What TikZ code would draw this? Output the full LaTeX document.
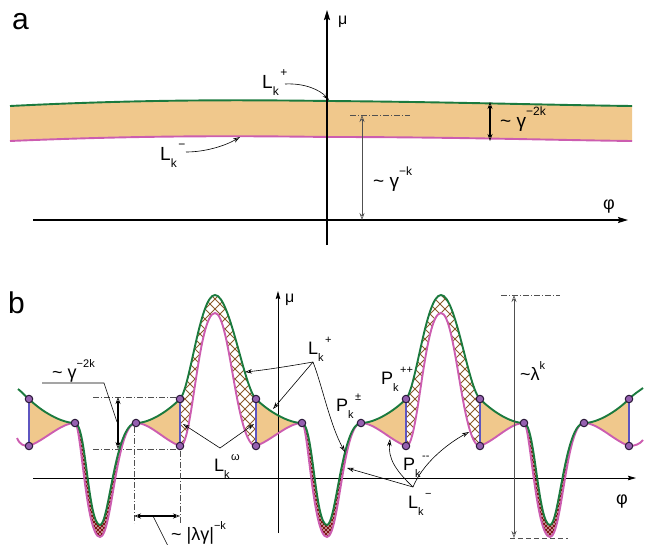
\documentclass[tikz,border=0pt]{standalone}
\usepackage{fontspec}
\setmainfont{Liberation Sans}
\usetikzlibrary{arrows.meta,patterns}
\definecolor{gcol}{HTML}{1B7A3E}
\definecolor{mcol}{HTML}{CC5DB0}
\definecolor{ocol}{HTML}{F0C88C}
\definecolor{bcol}{HTML}{5E55C0}
\definecolor{dotfill}{HTML}{9560B0}
\definecolor{dotline}{HTML}{2A1838}
\definecolor{hbrown}{HTML}{8B5A2B}
\definecolor{hred}{HTML}{801515}
\definecolor{dgray}{HTML}{505050}
\pgfdeclarepatternformonly{bighatch}{\pgfqpoint{-1pt}{-1pt}}{\pgfqpoint{11pt}{11pt}}{\pgfqpoint{10pt}{10pt}}{%
  \pgfsetlinewidth{0.9pt}%
  \pgfpathmoveto{\pgfqpoint{0pt}{0pt}}\pgfpathlineto{\pgfqpoint{10pt}{10pt}}%
  \pgfpathmoveto{\pgfqpoint{0pt}{10pt}}\pgfpathlineto{\pgfqpoint{10pt}{0pt}}%
  \pgfusepath{stroke}}
\pgfdeclarepatternformonly{smallhatch}{\pgfqpoint{-1pt}{-1pt}}{\pgfqpoint{5pt}{5pt}}{\pgfqpoint{4pt}{4pt}}{%
  \pgfsetlinewidth{1.1pt}%
  \pgfpathmoveto{\pgfqpoint{0pt}{0pt}}\pgfpathlineto{\pgfqpoint{4pt}{4pt}}%
  \pgfpathmoveto{\pgfqpoint{0pt}{4pt}}\pgfpathlineto{\pgfqpoint{4pt}{0pt}}%
  \pgfusepath{stroke}}
\def\subsz{11}
\newcommand{\Lbl}[3]{#1\raisebox{-0.42em}{\fontsize{\subsz}{\subsz}\selectfont #2}\hspace{0.08em}\raisebox{0.6em}{\fontsize{\subsz}{\subsz}\selectfont #3}}
\newcommand{\Sup}[1]{\raisebox{0.6em}{\fontsize{\subsz}{\subsz}\selectfont #1}}
\begin{document}
\begin{tikzpicture}[x=1pt,y=-1pt,
  gline/.style={gcol,line width=1.9pt},
  mline/.style={mcol,line width=1.9pt},
  bline/.style={bcol,line width=1.2pt},
  dotc/.style={circle,fill=dotfill,draw=dotline,line width=1pt,minimum size=7.5pt,inner sep=0pt},
  axa/.style={black,line width=1.6pt,-{Stealth[length=10pt,width=6pt,inset=1.5pt]}},
  axb/.style={black,line width=0.9pt,-{Stealth[length=8pt,width=4.5pt,inset=1pt]}},
  ldr/.style={black,line width=0.6pt},
  openhead/.style={-{Stealth[open,length=7pt,width=4.5pt,line width=0.6pt]}},
  dblopen/.style={{Stealth[open,length=7pt,width=5pt,line width=0.6pt]}-{Stealth[open,length=7pt,width=5pt,line width=0.6pt]}},
  dashdot/.style={dgray,line width=0.7pt,dash pattern=on 6pt off 2pt on 1pt off 2pt},
  dashd/.style={dgray,line width=0.7pt,dash pattern=on 5pt off 3pt},
  lbla/.style={anchor=base west,inner sep=0pt,font=\fontsize{19}{19}\selectfont\def\subsz{12}},
  lblb/.style={anchor=base west,inner sep=0pt,font=\fontsize{18}{18}\selectfont\def\subsz{11}},
  bigl/.style={anchor=base west,inner sep=0pt,font=\fontsize{30}{30}\selectfont},
]
\path[use as bounding box] (0,0) rectangle (650,544);

% ================= panel a =================
\node[bigl] (la) at (12,29) {a};
\fill[ocol] (10,106) .. controls (150,99) and (250,100) .. (330,101) .. controls (450,102) and (550,105) .. (632,106)
  -- (632,141) .. controls (550,140) and (450,137) .. (330,137) .. controls (250,136) and (150,135) .. (10,141) -- cycle;
\draw[gline] (10,106) .. controls (150,99) and (250,100) .. (330,101) .. controls (450,102) and (550,105) .. (632,106);
\draw[mline] (10,141) .. controls (150,135) and (250,136) .. (330,137) .. controls (450,137) and (550,140) .. (632,141);

\coordinate (aphL) at (33,220); \coordinate (aphR) at (628,220);
\coordinate (amuB) at (327,245); \coordinate (amuT) at (327,10);
\draw[axa] (aphL) -- (aphR);
\draw[axa] (amuB) -- (amuT);
\node[anchor=base west,inner sep=0pt,font=\fontsize{16}{16}\selectfont] (amu) at (338,24) {μ};
\node[anchor=base west,inner sep=0pt,font=\fontsize{18}{18}\selectfont] (aphi) at (603,209) {φ};

\coordinate (adl) at (350,115); \coordinate (adr) at (410,115);
\draw[dashdot] (adl) -- (adr);
\coordinate (aat) at (362,115); \coordinate (aab) at (362,220);
\draw[dblopen,dgray,line width=0.7pt] (aab) -- (aat);
\coordinate (abt) at (490,102); \coordinate (abb) at (490,141);
\draw[dblopen,black,line width=1.8pt] (abt) -- (abb);
\node[lbla] (agk) at (373,187) {\textasciitilde\ γ\Sup{−k}};
\node[lbla] (ag2k) at (500,127) {\textasciitilde\ γ\Sup{−2k}};
\node[lbla] (aLp) at (262,88) {\Lbl{L}{k}{+}};
\node[lbla] (aLm) at (160,160) {\Lbl{L}{k}{−}};
\coordinate (aLpS) at (285,84); \coordinate (aLpT) at (329,100);
\draw[ldr,openhead] (aLpS) .. controls (305,83) and (320,90) .. (aLpT);
\coordinate (aLmS) at (186,152); \coordinate (aLmT) at (240,137);
\draw[ldr,openhead] (aLmS) .. controls (205,152) and (225,146) .. (aLmT);

% ================= panel b =================
\node[bigl] (lb) at (8,313) {b};

% orange triangles
\fill[ocol] (29,399) .. controls (41,411) and (61,423) .. (75,423) .. controls (61,423) and (45,440) .. (29,446) -- cycle;
\fill[ocol] (136,423) .. controls (150,423) and (168,411) .. (180,399) -- (180,446) .. controls (164,440) and (150,423) .. (136,423) -- cycle;
\fill[ocol] (256,399) .. controls (268,411) and (288,423) .. (302,423) .. controls (288,423) and (272,440) .. (256,446) -- cycle;
\fill[ocol] (361,423) .. controls (375,423) and (394,411) .. (406,399) -- (406,446) .. controls (390,440) and (375,423) .. (361,423) -- cycle;
\fill[ocol] (480,399) .. controls (492,411) and (510,423) .. (524,423) .. controls (510,423) and (496,440) .. (480,446) -- cycle;
\fill[ocol] (584,423) .. controls (598,423) and (617,411) .. (629,399) -- (629,446) .. controls (613,440) and (598,423) .. (584,423) -- cycle;

% bump hatches
\fill[pattern=bighatch,pattern color=hbrown] (180,399) .. controls (190,389) and (200,295) .. (215,295) .. controls (230,295) and (244,388) .. (256,399) -- (256,446) .. controls (236,446) and (230,313) .. (215,313) .. controls (198,313) and (192,450) .. (180,446) -- cycle;
\fill[pattern=bighatch,pattern color=hbrown] (406,399) .. controls (416,389) and (426,295) .. (441,295) .. controls (456,295) and (468,388) .. (480,399) -- (480,446) .. controls (462,446) and (456,313) .. (441,313) .. controls (424,313) and (418,450) .. (406,446) -- cycle;
% dip hatches
\fill[pattern=smallhatch,pattern color=hred] (75,423) .. controls (86,423) and (88,525) .. (100,525) .. controls (109,525) and (115,423) .. (136,423) .. controls (116,423) and (112,537) .. (100,537) .. controls (86,537) and (81,423) .. (75,423) -- cycle;
\fill[pattern=smallhatch,pattern color=hred] (302,423) .. controls (313,423) and (315,525) .. (327,525) .. controls (336,525) and (342,423) .. (361,423) .. controls (343,423) and (339,537) .. (327,537) .. controls (313,537) and (308,423) .. (302,423) -- cycle;
\fill[pattern=smallhatch,pattern color=hred] (524,423) .. controls (535,423) and (538,525) .. (550,525) .. controls (559,525) and (565,423) .. (584,423) .. controls (566,423) and (562,537) .. (550,537) .. controls (536,537) and (530,423) .. (524,423) -- cycle;

% axes
\coordinate (bphL) at (33,478); \coordinate (bphR) at (636,478);
\coordinate (bmuB) at (278,533); \coordinate (bmuT) at (278,291);
\draw[axb] (bphL) -- (bphR);
\draw[axb] (bmuB) -- (bmuT);
\node[anchor=base west,inner sep=0pt,font=\fontsize{16}{16}\selectfont] (bmu) at (285,302) {μ};
\node[anchor=base west,inner sep=0pt,font=\fontsize{18}{18}\selectfont] (bphi) at (616,504) {φ};

% dots
\foreach \n/\x/\y in {a1/29/399,a2/29/446,a3/75/423,b1/136/423,b2/180/399,b3/180/446,c1/256/399,c2/256/446,c3/302/423,d1/361/423,d2/406/399,d3/406/446,e1/480/399,e2/480/446,e3/524/423,f1/584/423,f2/629/399,f3/629/446}
  \coordinate (\n) at (\x,\y);

% blue edges
\draw[bline] (a1) -- (a2);
\draw[bline] (b2) -- (b3);
\draw[bline] (c1) -- (c2);
\draw[bline] (d2) -- (d3);
\draw[bline] (e1) -- (e2);
\draw[bline] (f2) -- (f3);

% magenta curve
\draw[mline] (17,438) .. controls (20,445) and (24,446) .. (29,446)
 .. controls (45,440) and (61,423) .. (75,423)
 .. controls (81,423) and (86,537) .. (100,537) .. controls (112,537) and (116,423) .. (136,423)
 .. controls (150,423) and (164,440) .. (180,446)
 .. controls (192,450) and (198,313) .. (215,313) .. controls (230,313) and (236,446) .. (256,446)
 .. controls (272,440) and (288,423) .. (302,423)
 .. controls (308,423) and (313,537) .. (327,537) .. controls (339,537) and (343,423) .. (361,423)
 .. controls (375,423) and (390,440) .. (406,446)
 .. controls (418,450) and (424,313) .. (441,313) .. controls (456,313) and (462,446) .. (480,446)
 .. controls (496,440) and (510,423) .. (524,423)
 .. controls (530,423) and (536,537) .. (550,537) .. controls (562,537) and (566,423) .. (584,423)
 .. controls (598,423) and (613,440) .. (629,446)
 .. controls (635,446) and (640,444) .. (643,440);
% green curve
\draw[gline] (18,389) .. controls (22,392) and (25,396) .. (29,399)
 .. controls (41,411) and (61,423) .. (75,423)
 .. controls (86,423) and (88,525) .. (100,525) .. controls (109,525) and (115,423) .. (136,423)
 .. controls (150,423) and (168,411) .. (180,399)
 .. controls (190,389) and (200,295) .. (215,295) .. controls (230,295) and (244,388) .. (256,399)
 .. controls (268,411) and (288,423) .. (302,423)
 .. controls (313,423) and (315,525) .. (327,525) .. controls (336,525) and (342,423) .. (361,423)
 .. controls (375,423) and (394,411) .. (406,399)
 .. controls (416,389) and (426,295) .. (441,295) .. controls (456,295) and (468,388) .. (480,399)
 .. controls (492,411) and (510,423) .. (524,423)
 .. controls (535,423) and (538,525) .. (550,525) .. controls (559,525) and (565,423) .. (584,423)
 .. controls (598,423) and (617,411) .. (629,399)
 .. controls (634,394) and (639,391) .. (643,388);

\foreach \n in {a1,a2,a3,b1,b2,b3,c1,c2,c3,d1,d2,d3,e1,e2,e3,f1,f2,f3}
  \node[dotc] (n\n) at (\n) {};

% gamma^-2k annotation
\coordinate (g1) at (93,397); \coordinate (g2) at (177,397);
\coordinate (g3) at (93,449); \coordinate (g4) at (178,449);
\draw[dashdot] (g1) -- (g2);
\draw[dashdot] (g3) -- (g4);
\coordinate (gat) at (118,397); \coordinate (gab) at (118,449);
\draw[dblopen,black,line width=1.8pt] (gat) -- (gab);
\coordinate (gl1) at (42,383); \coordinate (gl2) at (104,383); \coordinate (gl3) at (117,422);
\draw[ldr] (gl1) -- (gl2) -- (gl3);
\node[lblb] (bg2k) at (52,378) {\textasciitilde\ γ\Sup{−2k}};

% |lambda gamma|^-k annotation
\coordinate (v1t) at (134,427); \coordinate (v1b) at (134,523);
\coordinate (v2t) at (180,451); \coordinate (v2b) at (180,523);
\draw[dashdot] (v1t) -- (v1b);
\draw[dashdot] (v2t) -- (v2b);
\coordinate (hal) at (134,516); \coordinate (har) at (180,516);
\draw[dblopen,black,line width=1.8pt] (hal) -- (har);
\coordinate (hl1) at (153,516); \coordinate (hl2) at (168,546);
\draw[ldr] (hl1) -- (hl2);
\node[lblb] (blg) at (171,540) {\textasciitilde\ |λγ|\Sup{−k}};

% lambda^k annotation
\coordinate (lt1) at (501,295); \coordinate (lt2) at (560,295);
\coordinate (lb1) at (510,538); \coordinate (lb2) at (568,538);
\draw[dashdot] (lt1) -- (lt2);
\draw[dashd] (lb1) -- (lb2);
\coordinate (lat) at (514,295); \coordinate (lab) at (514,538);
\draw[dblopen,dgray,line width=0.7pt] (lab) -- (lat);
\node[lblb] (blk) at (520,380) {\textasciitilde λ\Sup{k}};

% L_k^+ leaders
\node[lblb] (bLp) at (308,354) {\Lbl{L}{k}{+}};
\coordinate (j1) at (313,362);
\coordinate (tp1) at (245,372); \coordinate (tp2) at (273,409); \coordinate (tp3) at (345,452);
\draw[ldr,openhead] (j1) .. controls (290,366) and (265,370) .. (tp1);
\draw[ldr,openhead] (j1) -- (tp2);
\draw[ldr,openhead] (j1) .. controls (322,385) and (330,425) .. (tp3);

% L_k^omega leaders
\node[lblb] (bLw) at (214,471) {\Lbl{L}{k}{ω}};
\coordinate (j2) at (220,448);
\coordinate (tw1) at (183,424); \coordinate (tw2) at (254,424);
\draw[ldr,openhead] (j2) -- (tw1);
\draw[ldr,openhead] (j2) -- (tw2);

% P labels
\node[lblb] (bPpm) at (336,411) {\Lbl{P}{k}{±}};
\node[lblb] (bPpp) at (381,384) {\Lbl{P}{k}{++}};
\node[lblb] (bPmm) at (403,470) {\Lbl{P}{k}{-{}-}};

% L_k^- leaders
\node[lblb] (bLm) at (408,508) {\Lbl{L}{k}{−}};
\coordinate (j3) at (413,487);
\coordinate (tm1) at (347,468); \coordinate (tm2) at (390,439); \coordinate (tm3) at (469,432);
\draw[ldr,openhead] (j3) -- (tm1);
\draw[ldr,openhead] (j3) .. controls (395,470) and (388,458) .. (tm2);
\draw[ldr,openhead] (j3) .. controls (422,465) and (445,445) .. (tm3);
\end{tikzpicture}
\end{document}
